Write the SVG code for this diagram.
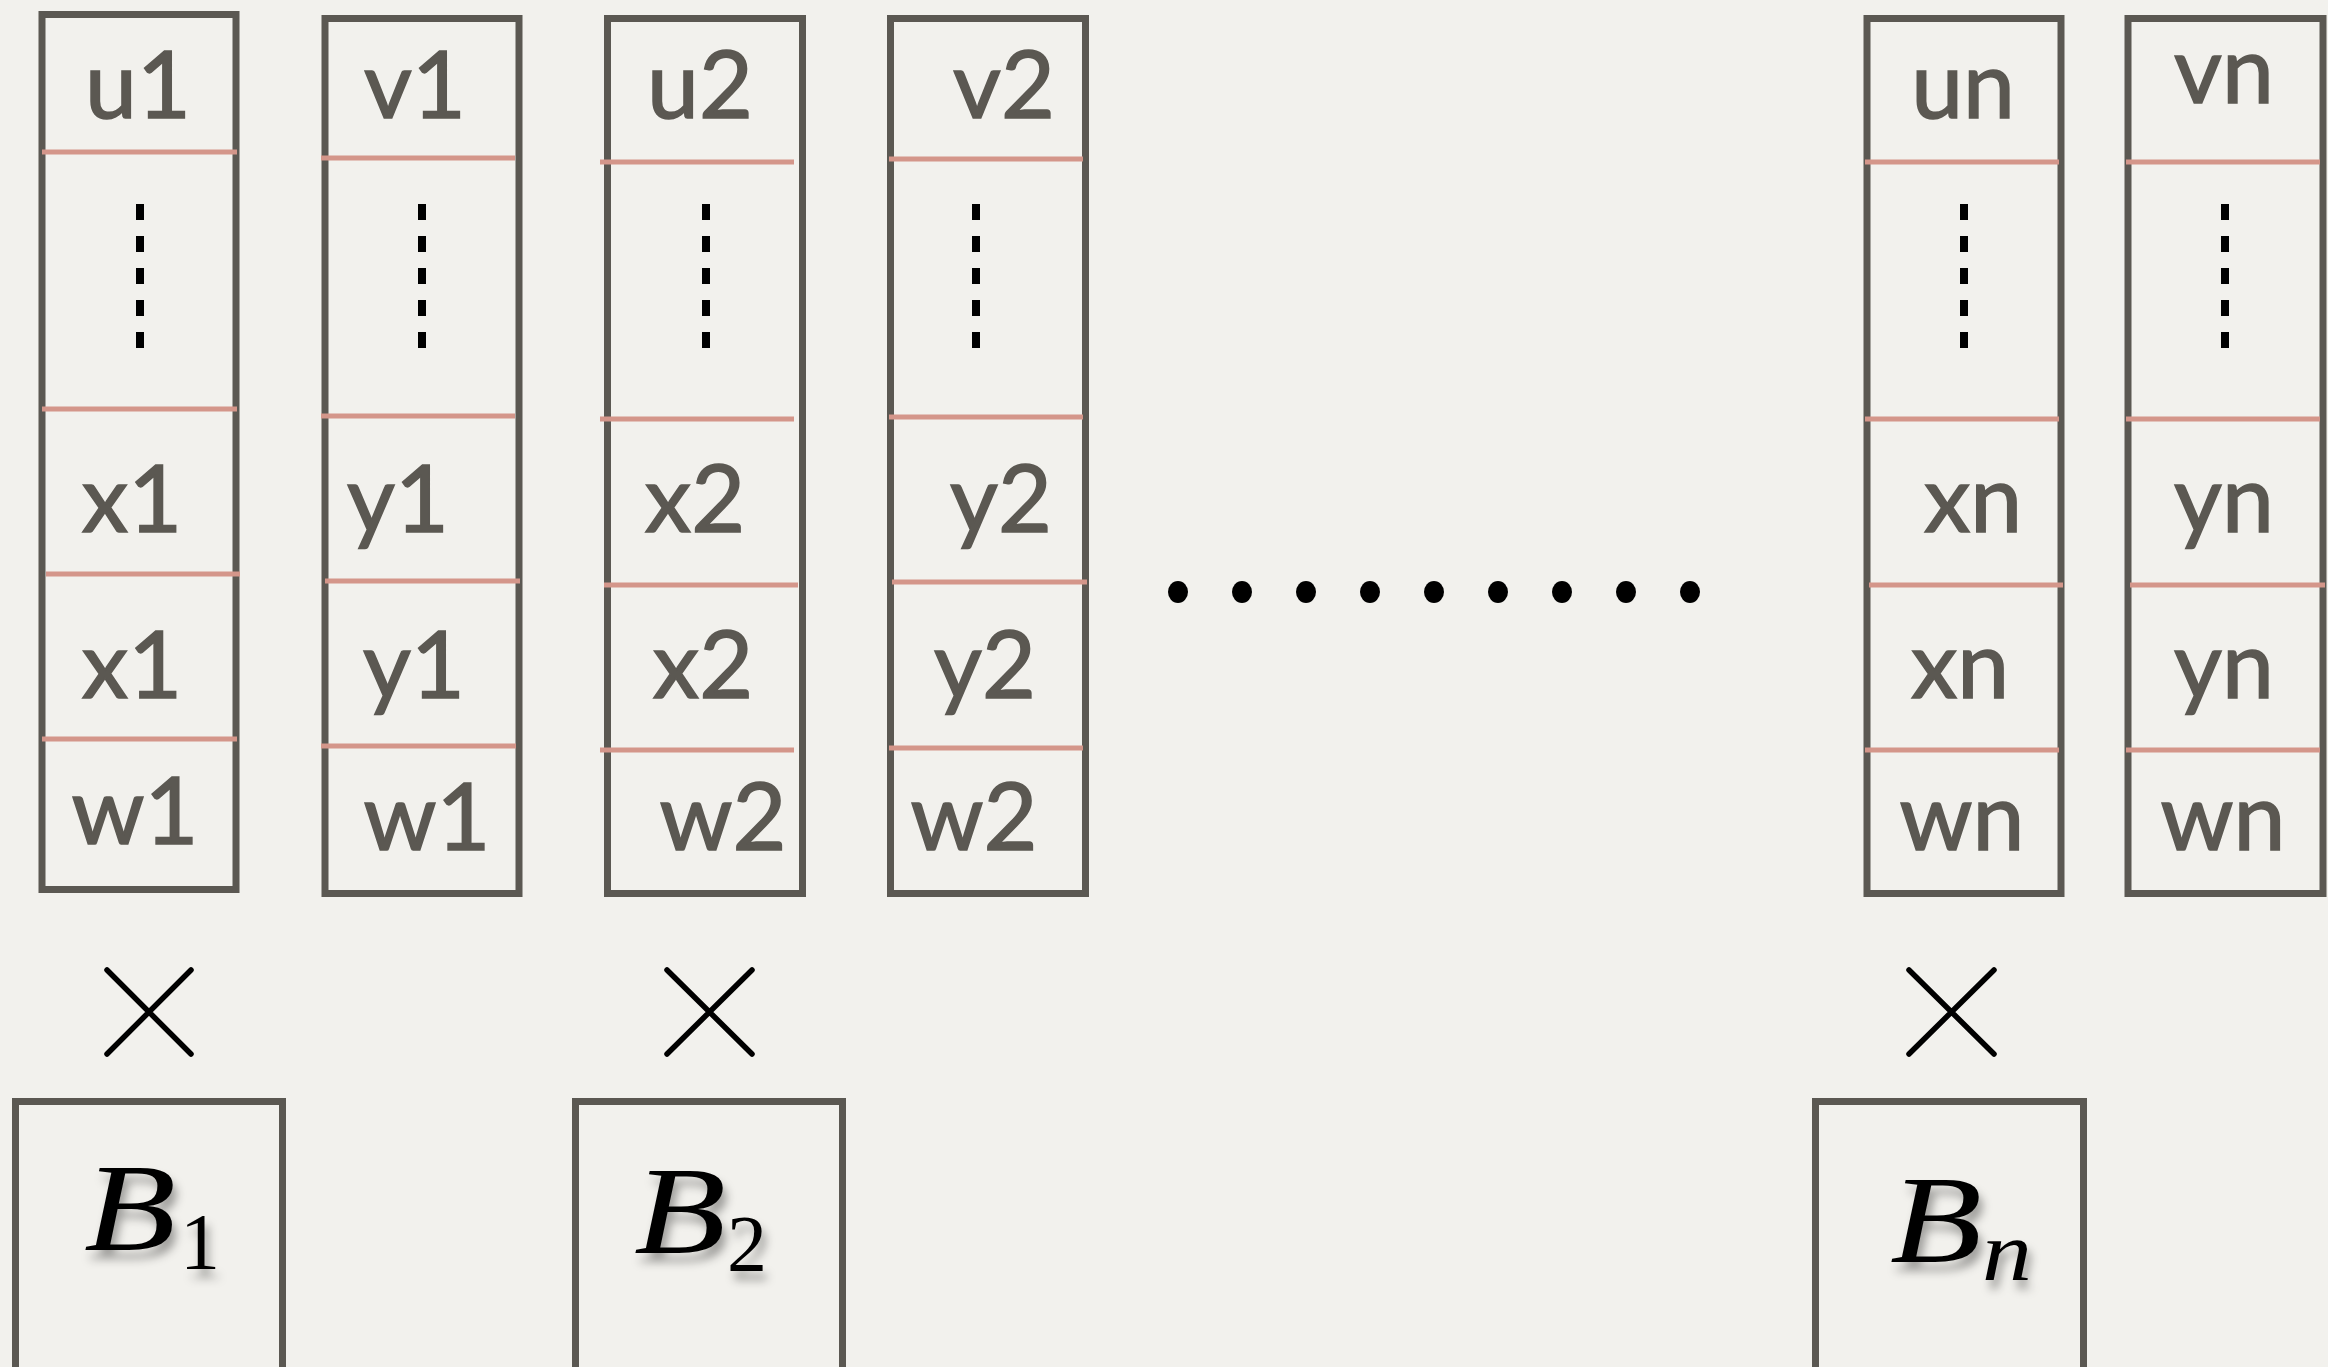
<svg xmlns="http://www.w3.org/2000/svg" width="2328" height="1367" viewBox="0 0 2328 1367">
<defs>
<style>
.col{fill:none;stroke:#5b5852;stroke-width:7}
.sep{stroke:#d4968a;stroke-width:5}
.lbl{font-family:Lato,"Liberation Sans",sans-serif;font-size:93px;fill:#5b5852;stroke:#5b5852;stroke-width:1.6;text-anchor:middle}
.vd{stroke:#000;stroke-width:8;stroke-dasharray:16 16}
.mul{stroke:#000;stroke-width:5.5;stroke-linecap:round;fill:none}
.bbox{fill:none;stroke:#5b5852;stroke-width:7}
.bm{font-family:"Liberation Serif","DejaVu Serif",serif;fill:#000}
</style>
<filter id="sh" x="-20%" y="-20%" width="150%" height="160%">
<feDropShadow dx="4" dy="9" stdDeviation="5" flood-color="#000" flood-opacity="0.35"/>
</filter>
</defs>
<rect width="2328" height="1367" fill="#f2f1ed"/>
<g id="col1">
<rect class="col" x="42" y="14.5" width="194" height="875"/>
<line class="sep" x1="42" y1="152" x2="237" y2="152"/>
<line class="sep" x1="42" y1="409" x2="237" y2="409"/>
<line class="sep" x1="46" y1="574" x2="240" y2="574"/>
<line class="sep" x1="42" y1="739" x2="237" y2="739"/>
<line class="vd" x1="140" y1="204" x2="140" y2="348"/>
<text class="lbl" x="138" y="118">u1</text>
<text class="lbl" x="132" y="532">x1</text>
<text class="lbl" x="132" y="698">x1</text>
<text class="lbl" x="135" y="844">w1</text>
</g>
<g id="col2">
<rect class="col" x="325" y="18.5" width="194" height="875"/>
<line class="sep" x1="321" y1="158" x2="515" y2="158"/>
<line class="sep" x1="321" y1="416" x2="515" y2="416"/>
<line class="sep" x1="325" y1="581" x2="520" y2="581"/>
<line class="sep" x1="321" y1="746" x2="516" y2="746"/>
<line class="vd" x1="422" y1="204" x2="422" y2="348"/>
<text class="lbl" x="415" y="118">v1</text>
<text class="lbl" x="398" y="532">y1</text>
<text class="lbl" x="414" y="698">y1</text>
<text class="lbl" x="427" y="850">w1</text>
</g>
<g id="col3">
<rect class="col" x="607.5" y="18.5" width="195" height="875"/>
<line class="sep" x1="600" y1="162" x2="794" y2="162"/>
<line class="sep" x1="600" y1="419" x2="794" y2="419"/>
<line class="sep" x1="604" y1="585" x2="798" y2="585"/>
<line class="sep" x1="600" y1="750" x2="794" y2="750"/>
<line class="vd" x1="706" y1="204" x2="706" y2="348"/>
<text class="lbl" x="700" y="118">u2</text>
<text class="lbl" x="695" y="532">x2</text>
<text class="lbl" x="703" y="698">x2</text>
<text class="lbl" x="723" y="850">w2</text>
</g>
<g id="col4">
<rect class="col" x="890.5" y="18.5" width="195" height="875"/>
<line class="sep" x1="889" y1="159" x2="1083" y2="159"/>
<line class="sep" x1="889" y1="417" x2="1083" y2="417"/>
<line class="sep" x1="892" y1="582" x2="1087" y2="582"/>
<line class="sep" x1="889" y1="748" x2="1083" y2="748"/>
<line class="vd" x1="976" y1="204" x2="976" y2="348"/>
<text class="lbl" x="1004" y="118">v2</text>
<text class="lbl" x="1001" y="532">y2</text>
<text class="lbl" x="985" y="698">y2</text>
<text class="lbl" x="974" y="850">w2</text>
</g>
<g id="col5">
<rect class="col" x="1867" y="18.5" width="194" height="875"/>
<line class="sep" x1="1865" y1="162" x2="2059" y2="162"/>
<line class="sep" x1="1865" y1="419" x2="2059" y2="419"/>
<line class="sep" x1="1869" y1="585" x2="2063" y2="585"/>
<line class="sep" x1="1865" y1="750" x2="2059" y2="750"/>
<line class="vd" x1="1964" y1="204" x2="1964" y2="348"/>
<text class="lbl" x="1963" y="118">un</text>
<text class="lbl" x="1973" y="532">xn</text>
<text class="lbl" x="1960" y="698">xn</text>
<text class="lbl" x="1962" y="850">wn</text>
</g>
<g id="col6">
<rect class="col" x="2128" y="18.5" width="195" height="875"/>
<line class="sep" x1="2126" y1="162" x2="2320" y2="162"/>
<line class="sep" x1="2126" y1="419" x2="2320" y2="419"/>
<line class="sep" x1="2130" y1="585" x2="2325" y2="585"/>
<line class="sep" x1="2126" y1="750" x2="2320" y2="750"/>
<line class="vd" x1="2225" y1="204" x2="2225" y2="348"/>
<text class="lbl" x="2224" y="103">vn</text>
<text class="lbl" x="2224" y="532">yn</text>
<text class="lbl" x="2224" y="698">yn</text>
<text class="lbl" x="2223" y="850">wn</text>
</g>
<g id="ellipsis" fill="#000">
<ellipse cx="1178" cy="592" rx="10" ry="11"/>
<ellipse cx="1242" cy="592" rx="10" ry="11"/>
<ellipse cx="1306" cy="592" rx="10" ry="11"/>
<ellipse cx="1370" cy="592" rx="10" ry="11"/>
<ellipse cx="1434" cy="592" rx="10" ry="11"/>
<ellipse cx="1498" cy="592" rx="10" ry="11"/>
<ellipse cx="1562" cy="592" rx="10" ry="11"/>
<ellipse cx="1626" cy="592" rx="10" ry="11"/>
<ellipse cx="1690" cy="592" rx="10" ry="11"/>
</g>
<g id="connectors">
<path class="mul" d="M107 970 L191 1054 M191 970 L107 1054"/>
<path class="mul" d="M667 970 L752 1054 M752 970 L667 1054"/>
<path class="mul" d="M1909 970 L1994 1054 M1994 970 L1909 1054"/>
</g>
<g id="B1">
<rect class="bbox" x="15.5" y="1101.5" width="267" height="300"/>
<g filter="url(#sh)">
<text class="bm" x="84" y="1250" font-size="124" font-style="italic" textLength="92" lengthAdjust="spacingAndGlyphs">B</text>
<text class="bm" x="180" y="1269" font-size="80">1</text>
</g>
</g>
<g id="B2">
<rect class="bbox" x="575.5" y="1101.5" width="267" height="300"/>
<g filter="url(#sh)">
<text class="bm" x="634" y="1253" font-size="124" font-style="italic" textLength="92" lengthAdjust="spacingAndGlyphs">B</text>
<text class="bm" x="727" y="1271" font-size="80">2</text>
</g>
</g>
<g id="Bn">
<rect class="bbox" x="1815.5" y="1101.5" width="268" height="300"/>
<g filter="url(#sh)">
<text class="bm" x="1890" y="1262" font-size="124" font-style="italic" textLength="92" lengthAdjust="spacingAndGlyphs">B</text>
<text class="bm" x="1982" y="1280" font-size="84" font-style="italic" textLength="50" lengthAdjust="spacingAndGlyphs">n</text>
</g>
</g>
</svg>
